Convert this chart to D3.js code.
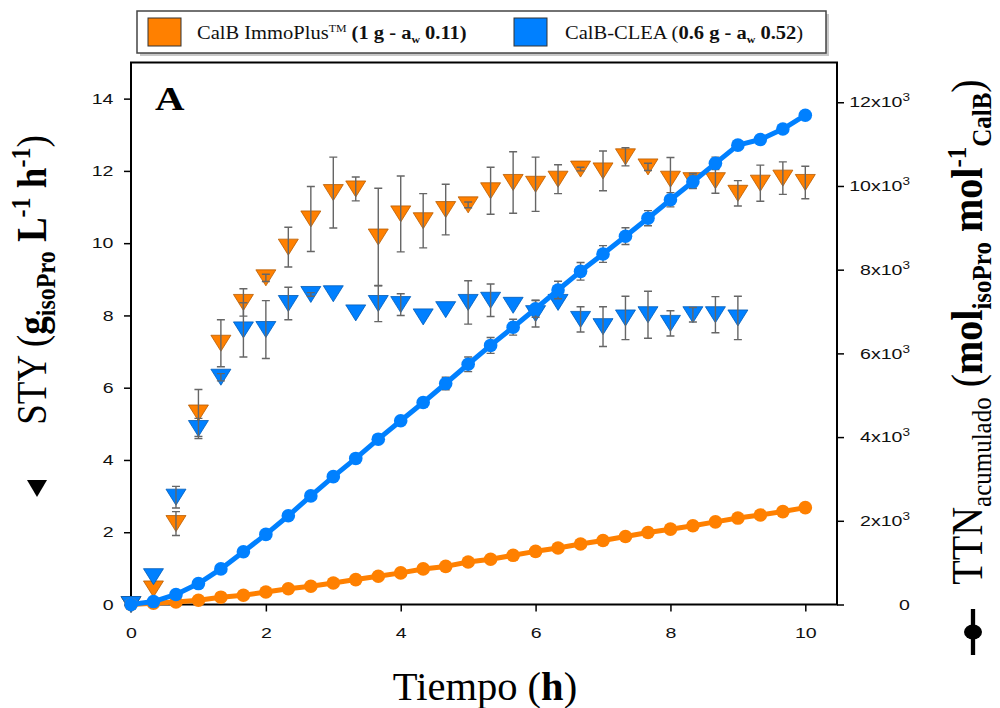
<!DOCTYPE html>
<html><head><meta charset="utf-8">
<script src="https://cdn.jsdelivr.net/npm/d3@7"></script>
<style>body{margin:0;background:#fff}svg{display:block}</style>
</head><body>
<svg id="chart" width="1000" height="708"></svg>
<script>
// ---------- data ----------
const time = [0,0.333,0.667,1,1.333,1.667,2,2.333,2.667,3,3.333,3.667,4,4.333,4.667,5,5.333,5.667,6,6.333,6.667,7,7.333,7.667,8,8.333,8.667,9,9.333,9.667,10];
// STY (left axis) - CalB ImmoPlus
const styImmo    = [0,0.43,2.24,5.3,7.23,8.36,9.04,9.89,10.67,11.4,11.5,10.17,10.81,10.62,10.93,11.06,11.45,11.68,11.63,11.77,12.05,12.0,12.39,12.11,11.77,11.73,11.73,11.38,11.66,11.8,11.68];
const styImmoErr = [0,0,0.33,0.65,0.65,0.38,0.1,0.55,0.9,0.98,0.33,1.35,1.05,0.75,0.7,0.08,0.65,0.85,0.75,0.4,0.05,0.55,0.25,0.1,0.6,0.2,0.35,0.35,0.5,0.45,0.45];
// STY (left axis) - CalB-CLEA (measured up to 9 h)
const timeClea   = [0,0.333,0.667,1,1.333,1.667,2,2.333,2.667,3,3.333,3.667,4,4.333,4.667,5,5.333,5.667,6,6.333,6.667,7,7.333,7.667,8,8.333,8.667,9];
const styClea    = [0,0.77,2.97,4.87,6.29,7.6,7.61,8.33,8.58,8.6,8.07,8.33,8.3,7.96,8.16,8.36,8.42,8.28,8.05,8.36,7.89,7.69,7.93,8.02,7.78,8.02,8.02,7.93];
const styCleaErr = [0,0,0.3,0.28,0.1,0.75,0.8,0.45,0.05,0,0,0.5,0.3,0,0,0.6,0.45,0,0.37,0,0.35,0.55,0.6,0.65,0.35,0.2,0.5,0.6];
// TTN accumulated (right axis)
const ttnImmo    = [0,30,60,100,175,220,300,375,435,515,595,675,755,850,910,1015,1080,1175,1270,1350,1445,1530,1625,1720,1800,1880,1975,2065,2140,2220,2315];
const ttnClea    = [0,70,240,500,850,1260,1675,2120,2595,3055,3490,3950,4390,4825,5280,5740,6190,6625,7065,7515,7960,8375,8800,9230,9670,10100,10540,10975,11110,11360,11690];
const ttnCleaErr = [0,0,0,0,0,0,0,0,0,0,0,0,0,0,150,175,190,190,200,210,210,200,200,180,170,160,150,0,0,0,0];
// ticks
const xTicks = [0,2,4,6,8,10];
const yLeftTicks = [0,2,4,6,8,10,12,14];
const yRightTicks = [0,2000,4000,6000,8000,10000,12000];
const rightTickLabels = ["0","2x10","4x10","6x10","8x10","10x10","12x10"];

const ORANGE = "#FF8000", BLUE = "#0080FF";
const SX = 1.35;            // horizontal stretch of the tick labels in the original figure
const SERIF = "'Liberation Serif','Times New Roman',serif";
const SANS = "'Liberation Sans',Arial,sans-serif";

const svg = d3.select("#chart");
const x  = d3.scaleLinear().domain([0, 10.47]).range([131, 837]);
const yL = d3.scaleLinear().domain([0, 15]).range([604.5, 62.5]);
const yR = d3.scaleLinear().domain([0, 12950]).range([604.5, 62.5]);

// ---------- legend ----------
const leg = svg.append("g");
leg.append("rect").attr("x",140).attr("y",14).attr("width",689).attr("height",42).attr("fill","#c8c8c8");
leg.append("rect").attr("x",137).attr("y",11).attr("width",689).attr("height",42).attr("fill","#fff").attr("stroke","#444").attr("stroke-width",1.5);
leg.append("rect").attr("x",148).attr("y",18).attr("width",33).attr("height",28).attr("fill",ORANGE).attr("stroke","#333").attr("stroke-width",1);
leg.append("rect").attr("x",514).attr("y",18).attr("width",33).attr("height",28).attr("fill",BLUE).attr("stroke","#333").attr("stroke-width",1);
const lt1 = leg.append("text").attr("transform",`translate(197,39) scale(1.08,1)`).style("font-family",SERIF).style("font-size","19px").attr("fill","#111");
lt1.append("tspan").text("CalB ImmoPlus");
lt1.append("tspan").text("TM").style("font-size","11px").attr("dy",-7);
lt1.append("tspan").text(" (1 g - a").style("font-weight","bold").attr("dy",7);
lt1.append("tspan").text("w").style("font-weight","bold").style("font-size","11px").attr("dy",4);
lt1.append("tspan").text(" 0.11)").style("font-weight","bold").attr("dy",-4);
const lt2 = leg.append("text").attr("transform",`translate(565,39) scale(1.08,1)`).style("font-family",SERIF).style("font-size","19px").attr("fill","#111");
lt2.append("tspan").text("CalB-CLEA (");
lt2.append("tspan").text("0.6 g - a").style("font-weight","bold");
lt2.append("tspan").text("w").style("font-weight","bold").style("font-size","11px").attr("dy",4);
lt2.append("tspan").text(" 0.52").style("font-weight","bold").attr("dy",-4);
lt2.append("tspan").text(")");

// ---------- frame ----------
svg.append("rect").attr("x",x(0)).attr("y",yL(15)).attr("width",x(10.47)-x(0)).attr("height",yL(0)-yL(15))
  .attr("fill","none").attr("stroke","#000").attr("stroke-width",2);

function styleTicks(g){
  g.select(".domain").remove();
  g.selectAll(".tick line").attr("stroke","#000").attr("stroke-width",1.5);
  g.selectAll(".tick text").style("font-family",SANS).style("font-size","14.5px").attr("fill","#111");
}
const axL = svg.append("g").attr("transform",`translate(${x(0)},0)`)
  .call(d3.axisLeft(yL).tickValues(yLeftTicks).tickSize(7).tickFormat(d3.format("d")));
styleTicks(axL);
axL.selectAll(".tick text").attr("x",-17.5/SX).attr("transform",`scale(${SX},1)`);

const axB = svg.append("g").attr("transform",`translate(0,${yL(0)})`)
  .call(d3.axisBottom(x).tickValues(xTicks).tickSize(7).tickFormat(d3.format("d")));
styleTicks(axB);
axB.selectAll(".tick text").attr("y",33.5).attr("dy","0").attr("transform",`scale(${SX},1)`);

const axR = svg.append("g").attr("transform",`translate(${x(10.47)},0)`)
  .call(d3.axisRight(yR).tickValues(yRightTicks).tickSize(7));
styleTicks(axR);
axR.selectAll(".tick text").attr("x",73/SX).attr("text-anchor","end").attr("transform",`scale(${SX},1)`)
  .each(function(d,i){
    const t = d3.select(this); t.text(null);
    t.append("tspan").text(rightTickLabels[i]);
    if (i > 0) t.append("tspan").text("3").style("font-size","10px").attr("dy",-6);
  });

// ---------- STY triangles + error bars ----------
const tri = "M-10,-8L10,-8L0,8Z";
function errBars(xs, ys, es, yScale, color, w){
  const data = xs.map((t,i)=>({t, v: ys[i], e: es[i]})).filter(d => d.e > 0);
  svg.append("g").attr("stroke",color).attr("stroke-width",w).attr("fill","none")
    .selectAll("path").data(data).join("path")
    .attr("d", d => {
      const cx = x(d.t), y1 = yScale(d.v + d.e), y2 = yScale(d.v - d.e);
      return `M${cx},${y1}V${y2}M${cx-4},${y1}H${cx+4}M${cx-4},${y2}H${cx+4}`;
    });
}
function triangles(xs, ys, fill, stroke){
  svg.append("g").selectAll("path").data(xs.map((t,i)=>({t, v: ys[i]}))).join("path")
    .attr("d", tri).attr("transform", d => `translate(${x(d.t)},${yL(d.v)})`)
    .attr("fill", fill).attr("stroke", stroke).attr("stroke-width", 0.8);
}
triangles(time, styImmo, ORANGE, "#b85c00");
errBars(time, styImmo, styImmoErr, yL, "#666", 1.4);
triangles(timeClea, styClea, BLUE, "#005cb8");
errBars(timeClea, styClea, styCleaErr, yL, "#666", 1.4);

// ---------- TTN lines + circles ----------
const line = d3.line().x(d => x(d.t)).y(d => yR(d.v));
function ttnSeries(vals, color){
  const data = time.map((t,i)=>({t, v: vals[i]}));
  svg.append("path").datum(data).attr("d", line).attr("fill","none").attr("stroke",color)
    .attr("stroke-width",5).attr("stroke-linejoin","round");
  svg.append("g").selectAll("circle").data(data).join("circle")
    .attr("cx", d => x(d.t)).attr("cy", d => yR(d.v)).attr("r", 6.8).attr("fill", color);
}
ttnSeries(ttnImmo, ORANGE);
errBars(time, ttnClea, ttnCleaErr, yR, "#666", 1.4);
ttnSeries(ttnClea, BLUE);

// ---------- texts ----------
svg.append("text").attr("transform",`translate(155,110) scale(1.2,1)`).text("A")
  .style("font-family",SERIF).style("font-weight","bold").style("font-size","34px").attr("fill","#000");

const xt = svg.append("text").attr("transform",`translate(485,700) scale(1.04,1)`).attr("text-anchor","middle")
  .style("font-family",SERIF).style("font-size","39px").attr("fill","#000");
xt.append("tspan").text("Tiempo (");
xt.append("tspan").text("h").style("font-weight","bold");
xt.append("tspan").text(")");

const ylt = svg.append("text").attr("transform",`translate(46,280) scale(1.12,1) rotate(-90)`).attr("text-anchor","middle")
  .style("font-family",SERIF).style("font-size","37px").attr("fill","#000");
ylt.append("tspan").text("STY (");
ylt.append("tspan").text("g").style("font-weight","bold");
ylt.append("tspan").text("isoPro").style("font-weight","bold").style("font-size","24px").attr("dy",8);
ylt.append("tspan").text(" L").style("font-weight","bold").attr("dy",-8);
ylt.append("tspan").text("-1").style("font-weight","bold").style("font-size","24px").attr("dy",-14);
ylt.append("tspan").text(" h").style("font-weight","bold").attr("dy",14);
ylt.append("tspan").text("-1").style("font-weight","bold").style("font-size","24px").attr("dy",-14);
ylt.append("tspan").text(")").attr("dy",14);

const yrt = svg.append("text").attr("transform",`translate(982,332) scale(1.1,1) rotate(-90)`).attr("text-anchor","middle")
  .style("font-family",SERIF).style("font-size","40px").attr("fill","#000");
yrt.append("tspan").text("TTN");
yrt.append("tspan").text("acumulado").style("font-size","25px").attr("dy",8);
yrt.append("tspan").text(" (").attr("dy",-8);
yrt.append("tspan").text("mol").style("font-weight","bold");
yrt.append("tspan").text("isoPro").style("font-weight","bold").style("font-size","25px").attr("dy",8);
yrt.append("tspan").text("  mol").style("font-weight","bold").attr("dy",-8);
yrt.append("tspan").text("-1").style("font-weight","bold").style("font-size","25px").attr("dy",-15);
yrt.append("tspan").text("CalB").style("font-weight","bold").style("font-size","25px").attr("dy",23);
yrt.append("tspan").text(")").attr("dy",-8);

// axis symbol keys
svg.append("path").attr("d","M27,480L47,480L37,497Z").attr("fill","#000");
svg.append("line").attr("x1",973).attr("x2",973).attr("y1",609).attr("y2",655).attr("stroke","#000").attr("stroke-width",4.3);
svg.append("ellipse").attr("cx",973).attr("cy",632).attr("rx",9).attr("ry",7.5).attr("fill","#000");
</script>
</body></html>
